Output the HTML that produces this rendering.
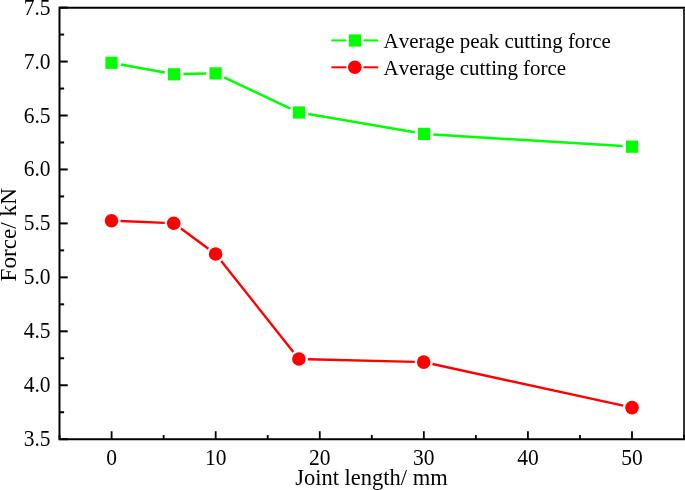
<!DOCTYPE html>
<html><head><meta charset="utf-8"><style>
html,body{margin:0;padding:0;background:#fff;width:685px;height:490px;overflow:hidden}
svg{display:block;will-change:transform}
text{font-family:"Liberation Serif",serif;fill:#000}
.t{font-size:21.5px}
.l{font-size:20.95px;font-kerning:none}
.a{font-size:22.5px}
.y{font-size:23.2px}
</style></head><body>
<svg width="685" height="490" viewBox="0 0 685 490">
<line x1="120.74" y1="64.50" x2="164.76" y2="72.60" stroke="#00ff00" stroke-width="2.5"/>
<line x1="183.40" y1="74.10" x2="206.20" y2="73.60" stroke="#00ff00" stroke-width="2.5"/>
<line x1="224.11" y1="77.39" x2="290.49" y2="108.51" stroke="#00ff00" stroke-width="2.5"/>
<line x1="308.27" y1="114.09" x2="414.73" y2="132.31" stroke="#00ff00" stroke-width="2.5"/>
<line x1="433.38" y1="134.48" x2="622.62" y2="146.12" stroke="#00ff00" stroke-width="2.5"/>
<line x1="120.49" y1="221.06" x2="164.71" y2="222.84" stroke="#ff0000" stroke-width="2.4"/>
<line x1="180.95" y1="228.53" x2="208.35" y2="248.67" stroke="#ff0000" stroke-width="2.4"/>
<line x1="221.19" y1="261.05" x2="293.31" y2="351.95" stroke="#ff0000" stroke-width="2.4"/>
<line x1="307.90" y1="359.22" x2="414.70" y2="361.88" stroke="#ff0000" stroke-width="2.4"/>
<line x1="432.49" y1="364.02" x2="623.21" y2="405.68" stroke="#ff0000" stroke-width="2.4"/>
<rect x="105.40" y="56.70" width="12.2" height="12.2" fill="#00ff00"/>
<rect x="167.90" y="68.20" width="12.2" height="12.2" fill="#00ff00"/>
<rect x="209.50" y="67.30" width="12.2" height="12.2" fill="#00ff00"/>
<rect x="292.90" y="106.40" width="12.2" height="12.2" fill="#00ff00"/>
<rect x="417.90" y="127.80" width="12.2" height="12.2" fill="#00ff00"/>
<rect x="625.90" y="140.60" width="12.2" height="12.2" fill="#00ff00"/>
<circle cx="111.50" cy="220.70" r="6.8" fill="#ff0000"/>
<circle cx="173.70" cy="223.20" r="6.8" fill="#ff0000"/>
<circle cx="215.60" cy="254.00" r="6.8" fill="#ff0000"/>
<circle cx="298.90" cy="359.00" r="6.8" fill="#ff0000"/>
<circle cx="423.70" cy="362.10" r="6.8" fill="#ff0000"/>
<circle cx="632.00" cy="407.60" r="6.8" fill="#ff0000"/>
<path d="M685 7.7 H59.5 V439.15 H685" stroke="#000" stroke-width="2.0" fill="none"/>
<rect x="683" y="8.6" width="2" height="429.65" fill="#333"/>
<rect x="683" y="435" width="2" height="4.149999999999977" fill="#000"/>
<line x1="59.5" y1="439.20" x2="67.7" y2="439.20" stroke="#000" stroke-width="2.0"/>
<line x1="59.5" y1="412.23" x2="64.1" y2="412.23" stroke="#000" stroke-width="2.0"/>
<text transform="translate(50.5 446.20) scale(1 1.07)" text-anchor="end" class="t">3.5</text>
<line x1="59.5" y1="385.25" x2="67.7" y2="385.25" stroke="#000" stroke-width="2.0"/>
<line x1="59.5" y1="358.28" x2="64.1" y2="358.28" stroke="#000" stroke-width="2.0"/>
<text transform="translate(50.5 392.25) scale(1 1.07)" text-anchor="end" class="t">4.0</text>
<line x1="59.5" y1="331.30" x2="67.7" y2="331.30" stroke="#000" stroke-width="2.0"/>
<line x1="59.5" y1="304.33" x2="64.1" y2="304.33" stroke="#000" stroke-width="2.0"/>
<text transform="translate(50.5 338.30) scale(1 1.07)" text-anchor="end" class="t">4.5</text>
<line x1="59.5" y1="277.35" x2="67.7" y2="277.35" stroke="#000" stroke-width="2.0"/>
<line x1="59.5" y1="250.38" x2="64.1" y2="250.38" stroke="#000" stroke-width="2.0"/>
<text transform="translate(50.5 284.35) scale(1 1.07)" text-anchor="end" class="t">5.0</text>
<line x1="59.5" y1="223.40" x2="67.7" y2="223.40" stroke="#000" stroke-width="2.0"/>
<line x1="59.5" y1="196.43" x2="64.1" y2="196.43" stroke="#000" stroke-width="2.0"/>
<text transform="translate(50.5 230.40) scale(1 1.07)" text-anchor="end" class="t">5.5</text>
<line x1="59.5" y1="169.45" x2="67.7" y2="169.45" stroke="#000" stroke-width="2.0"/>
<line x1="59.5" y1="142.47" x2="64.1" y2="142.47" stroke="#000" stroke-width="2.0"/>
<text transform="translate(50.5 176.45) scale(1 1.07)" text-anchor="end" class="t">6.0</text>
<line x1="59.5" y1="115.50" x2="67.7" y2="115.50" stroke="#000" stroke-width="2.0"/>
<line x1="59.5" y1="88.53" x2="64.1" y2="88.53" stroke="#000" stroke-width="2.0"/>
<text transform="translate(50.5 122.50) scale(1 1.07)" text-anchor="end" class="t">6.5</text>
<line x1="59.5" y1="61.55" x2="67.7" y2="61.55" stroke="#000" stroke-width="2.0"/>
<line x1="59.5" y1="34.58" x2="64.1" y2="34.58" stroke="#000" stroke-width="2.0"/>
<text transform="translate(50.5 68.55) scale(1 1.07)" text-anchor="end" class="t">7.0</text>
<line x1="59.5" y1="7.60" x2="67.7" y2="7.60" stroke="#000" stroke-width="2.0"/>
<text transform="translate(50.5 14.60) scale(1 1.07)" text-anchor="end" class="t">7.5</text>
<line x1="111.60" y1="439.15" x2="111.60" y2="431.25" stroke="#000" stroke-width="1.8"/>
<text transform="translate(111.60 465) scale(1 1.07)" text-anchor="middle" class="t">0</text>
<line x1="215.68" y1="439.15" x2="215.68" y2="431.25" stroke="#000" stroke-width="1.8"/>
<text transform="translate(215.68 465) scale(1 1.07)" text-anchor="middle" class="t">10</text>
<line x1="319.76" y1="439.15" x2="319.76" y2="431.25" stroke="#000" stroke-width="1.8"/>
<text transform="translate(319.76 465) scale(1 1.07)" text-anchor="middle" class="t">20</text>
<line x1="423.84" y1="439.15" x2="423.84" y2="431.25" stroke="#000" stroke-width="1.8"/>
<text transform="translate(423.84 465) scale(1 1.07)" text-anchor="middle" class="t">30</text>
<line x1="527.92" y1="439.15" x2="527.92" y2="431.25" stroke="#000" stroke-width="1.8"/>
<text transform="translate(527.92 465) scale(1 1.07)" text-anchor="middle" class="t">40</text>
<line x1="632.00" y1="439.15" x2="632.00" y2="431.25" stroke="#000" stroke-width="1.8"/>
<text transform="translate(632.00 465) scale(1 1.07)" text-anchor="middle" class="t">50</text>
<line x1="59.56" y1="439.15" x2="59.56" y2="435.04999999999995" stroke="#000" stroke-width="1.8"/>
<line x1="163.64" y1="439.15" x2="163.64" y2="435.04999999999995" stroke="#000" stroke-width="1.8"/>
<line x1="267.72" y1="439.15" x2="267.72" y2="435.04999999999995" stroke="#000" stroke-width="1.8"/>
<line x1="371.80" y1="439.15" x2="371.80" y2="435.04999999999995" stroke="#000" stroke-width="1.8"/>
<line x1="475.88" y1="439.15" x2="475.88" y2="435.04999999999995" stroke="#000" stroke-width="1.8"/>
<line x1="579.96" y1="439.15" x2="579.96" y2="435.04999999999995" stroke="#000" stroke-width="1.8"/>
<text x="371.5" y="485.3" text-anchor="middle" class="a">Joint length/ mm</text>
<text transform="translate(16.1 234.8) rotate(-90)" text-anchor="middle" class="y">Force/ kN</text>
<line x1="331.4" y1="40.4" x2="346.4" y2="40.4" stroke="#00ff00" stroke-width="2"/>
<line x1="363.4" y1="40.4" x2="378.2" y2="40.4" stroke="#00ff00" stroke-width="2"/>
<rect x="348.8" y="34.4" width="12.2" height="12.2" fill="#00ff00"/>
<line x1="331.4" y1="67.3" x2="346.4" y2="67.3" stroke="#ff0000" stroke-width="2"/>
<line x1="363.4" y1="67.3" x2="378.2" y2="67.3" stroke="#ff0000" stroke-width="2"/>
<circle cx="354.8" cy="67.2" r="6.8" fill="#ff0000"/>
<text x="383.6" y="47.9" class="l">Average peak cutting force</text>
<text x="383.6" y="74.7" class="l">Average cutting force</text>
</svg>
</body></html>
